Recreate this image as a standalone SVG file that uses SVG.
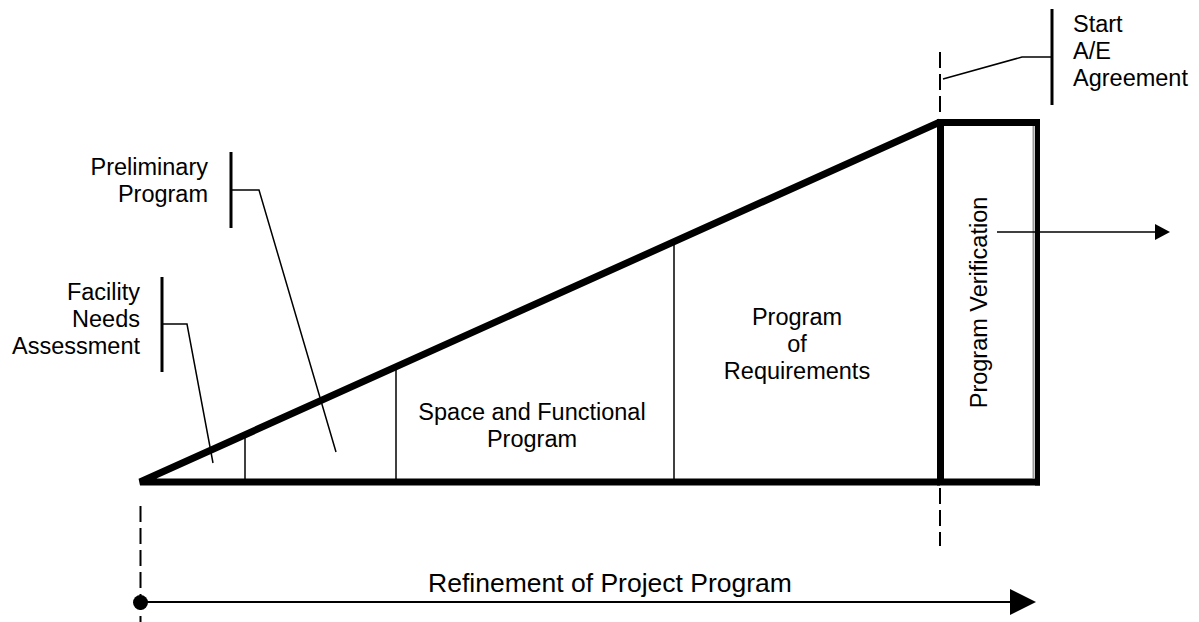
<svg xmlns="http://www.w3.org/2000/svg" width="1199" height="622" viewBox="0 0 1199 622">
<style>
text{font-family:"Liberation Sans",Arial,sans-serif;font-size:23.5px;fill:#000}
.thick{stroke:#000;stroke-width:7;fill:none}
.thin{stroke:#000;stroke-width:1.5;fill:none}
.bar{stroke:#000;stroke-width:3;fill:none}
.dash{stroke:#000;stroke-width:2;stroke-dasharray:16 6;fill:none}
.mid{text-anchor:middle}
.end{text-anchor:end}
</style>
<rect width="1199" height="622" fill="#fff"/>
<g id="triangle">
<path class="thick" d="M940,122 L140,482 L940,482"/>
<line class="thin" x1="245" y1="482" x2="245" y2="435"/>
<line class="thin" x1="396" y1="482" x2="396" y2="367"/>
<line class="thin" x1="674" y1="482" x2="674" y2="242"/>
</g>
<g id="verification-box">
<path class="thick" d="M940.5,119 V485.5 M937,122.5 H1040 M937,482 H1040"/>
<line x1="1037.5" y1="119" x2="1037.5" y2="485.5" stroke="#000" stroke-width="5"/>
<line x1="1033.5" y1="126" x2="1033.5" y2="478" stroke="#999" stroke-width="2"/>
<text class="mid" transform="translate(987,302.5) rotate(-90)">Program Verification</text>
</g>
<g id="facility-needs">
<text class="end" x="140" y="300">Facility</text>
<text class="end" x="140" y="327">Needs</text>
<text class="end" x="140" y="354">Assessment</text>
<line class="bar" x1="162" y1="277" x2="162" y2="372"/>
</g>
<g id="preliminary">
<text class="end" x="208" y="175">Preliminary</text>
<text class="end" x="208" y="202">Program</text>
<line class="bar" x1="231" y1="152" x2="231" y2="228"/>
</g>
<g id="space-functional">
<text class="mid" x="532" y="420">Space and Functional</text>
<text class="mid" x="532" y="447">Program</text>
</g>
<g id="requirements">
<text class="mid" x="797" y="325">Program</text>
<text class="mid" x="797" y="352">of</text>
<text class="mid" x="797" y="379">Requirements</text>
</g>
<g id="start-ae">
<text x="1073" y="32">Start</text>
<text x="1073" y="59">A/E</text>
<text x="1073" y="86">Agreement</text>
<line class="bar" x1="1052" y1="9" x2="1052" y2="105"/>
</g>
<g id="refinement">
<text class="mid" x="610" y="592" style="font-size:26.5px">Refinement of Project Program</text>
</g>
<g id="connectors">
<line class="dash" x1="940" y1="52" x2="940" y2="118"/>
<line class="dash" x1="940" y1="488" x2="940" y2="546"/>
<line class="dash" x1="140.5" y1="506" x2="140.5" y2="622"/>
<polyline class="thin" points="162,324 187,324 213,463"/>
<polyline class="thin" points="231,190 259,190 336,452"/>
<polyline class="thin" points="1052,57 1022,57 943,79"/>
<line class="thin" x1="997" y1="232" x2="1156" y2="232"/>
<polygon points="1155,224 1170,232 1155,240" fill="#000"/>
<circle cx="140.5" cy="602.5" r="7.5" fill="#000"/>
<line x1="140" y1="602" x2="1012" y2="602" stroke="#000" stroke-width="2"/>
<polygon points="1010,589 1036,602 1010,615" fill="#000"/>
</g>
</svg>
